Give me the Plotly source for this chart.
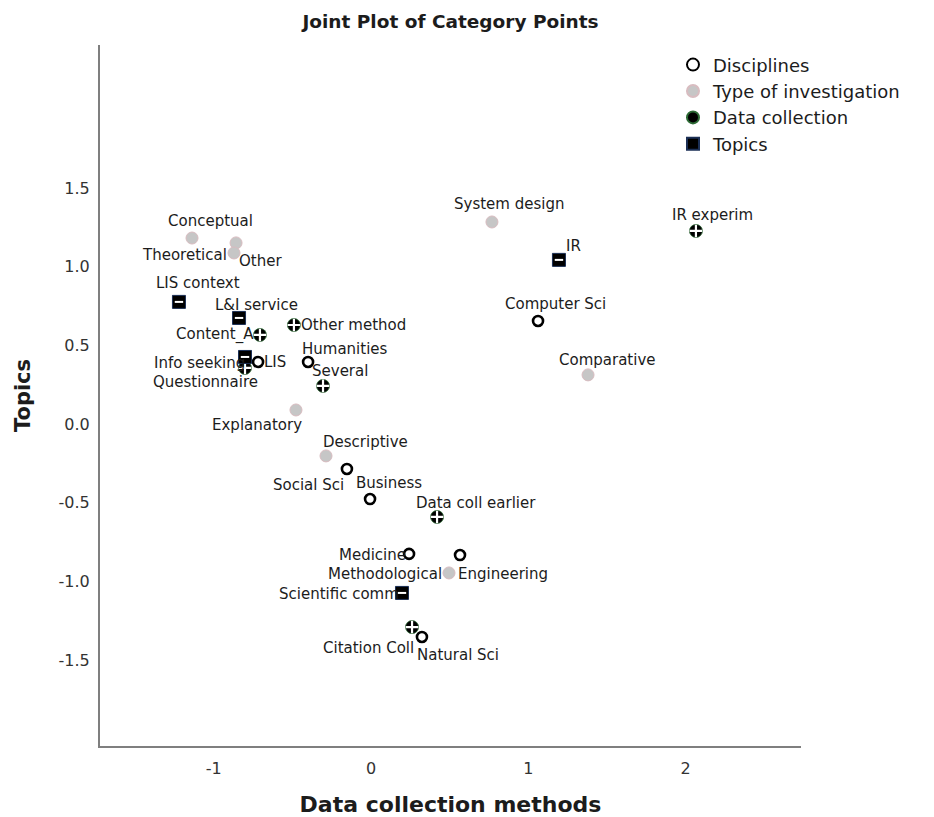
import plotly.graph_objects as go

# ---------------- data ----------------
disc_names = ["Computer Sci", "LIS", "Humanities", "Social Sci", "Business",
              "Medicine", "Engineering", "Natural Sci"]
disc_x = [1.062, -0.718, -0.400, -0.153, -0.006, 0.242, 0.566, 0.324]
disc_y = [0.655, 0.394, 0.394, -0.286, -0.477, -0.826, -0.833, -1.354]

type_names = ["Conceptual", "Other", "Theoretical", "System design", "Comparative",
              "Explanatory", "Descriptive", "Methodological"]
type_x = [-1.138, -0.858, -0.871, 0.769, 1.380, -0.477, -0.286, 0.496]
type_y = [1.182, 1.151, 1.087, 1.284, 0.312, 0.089, -0.203, -0.947]

dc_names = ["IR experim", "Other method", "Content_A", "Questionnaire", "Several",
            "Data coll earlier", "Citation Coll"]
dc_x = [2.066, -0.490, -0.706, -0.801, -0.305, 0.420, 0.261]
dc_y = [1.227, 0.629, 0.566, 0.356, 0.242, -0.591, -1.291]

topic_names = ["IR", "LIS context", "L&I service", "Info seeking", "Scientific comm"]
topic_x = [1.195, -1.221, -0.839, -0.801, 0.197]
topic_y = [1.043, 0.776, 0.674, 0.426, -1.074]

x_ticks = [-1, 0, 1, 2]
x_tick_text = ["-1", "0", "1", "2"]
y_ticks = [-1.5, -1.0, -0.5, 0.0, 0.5, 1.0, 1.5]
y_tick_text = ["-1.5", "-1.0", "-0.5", "0.0", "0.5", "1.0", "1.5"]

# ---------------- label placement (anchor, dx px, dy px down) ----------------
label_pos = {
    "Computer Sci": ("center", 17, -17), "LIS": ("left", 4, 0),
    "Humanities": ("center", 37, -13), "Social Sci": ("center", -38, 16),
    "Business": ("center", 19, -16), "Medicine": ("right", -1, 1),
    "Engineering": ("left", -4, 19), "Natural Sci": ("left", -7, 18),
    "Conceptual": ("center", 18, -17), "Other": ("left", 1, 18),
    "Theoretical": ("right", -5, 2), "System design": ("center", 17, -18),
    "Comparative": ("center", 19, -15), "Explanatory": ("center", -39, 15),
    "Descriptive": ("center", 39, -14), "Methodological": ("right", -5, 1),
    "IR experim": ("center", 17, -16), "Other method": ("left", 5, 0),
    "Content_A": ("right", -4, 0), "Questionnaire": ("center", -40, 14),
    "Several": ("center", 17, -15), "Data coll earlier": ("center", 39, -14),
    "Citation Coll": ("right", 4, 21), "IR": ("left", 5, -14),
    "LIS context": ("center", 19, -19), "L&I service": ("center", 17, -13),
    "Info seeking": ("right", 2, 6), "Scientific comm": ("right", -1, 1),
}

FONT = "DejaVu Sans"
TXT = "#1c1c1c"

fig = go.Figure()

fig.add_trace(go.Scatter(
    x=disc_x, y=disc_y, mode="markers", name="Disciplines",
    marker=dict(symbol="circle", size=10, color="white",
                line=dict(color="black", width=2.6)),
))
fig.add_trace(go.Scatter(
    x=type_x, y=type_y, mode="markers", name="Type of investigation",
    marker=dict(symbol="circle", size=12, color="#c6c6c6",
                line=dict(color="#d8bcc0", width=1)),
))
fig.add_trace(go.Scatter(
    x=dc_x, y=dc_y, mode="markers", name="Data collection", legendgroup="dc",
    marker=dict(symbol="circle", size=13, color="black",
                line=dict(color="#2d6b35", width=0.8)),
))
fig.add_trace(go.Scatter(
    x=dc_x, y=dc_y, mode="markers", showlegend=False, legendgroup="dc",
    hoverinfo="skip",
    marker=dict(symbol="cross-thin", size=9, color="white",
                line=dict(color="white", width=2.2)),
))
fig.add_trace(go.Scatter(
    x=topic_x, y=topic_y, mode="markers", name="Topics", legendgroup="topics",
    marker=dict(symbol="square", size=13, color="black",
                line=dict(color="#1b2f55", width=1)),
))
fig.add_trace(go.Scatter(
    x=topic_x, y=topic_y, mode="markers", showlegend=False, legendgroup="topics",
    hoverinfo="skip",
    marker=dict(symbol="line-ew", size=6, color="white",
                line=dict(color="white", width=2)),
))

annotations = []
for names, xs, ys in [(disc_names, disc_x, disc_y), (type_names, type_x, type_y),
                      (dc_names, dc_x, dc_y), (topic_names, topic_x, topic_y)]:
    for n, xv, yv in zip(names, xs, ys):
        anc, dx, dy = label_pos[n]
        annotations.append(dict(
            x=xv, y=yv, xref="x", yref="y", text=n, showarrow=False,
            xanchor=anc, yanchor="middle", xshift=dx, yshift=-dy,
            font=dict(family=FONT, size=15, color=TXT),
        ))

fig.update_layout(
    width=934, height=817, autosize=False,
    margin=dict(l=100, r=133, t=45, b=71),
    paper_bgcolor="white", plot_bgcolor="white",
    title=dict(text="<b>Joint Plot of Category Points</b>", x=0.5, xref="paper",
               xanchor="center", y=1 - 22 / 817, yanchor="middle",
               font=dict(family=FONT, size=18.5, color=TXT)),
    font=dict(family=FONT, color=TXT),
    showlegend=True,
    legend=dict(x=0.8174, y=0.998, xanchor="left", yanchor="top",
                bgcolor="rgba(0,0,0,0)", borderwidth=0,
                font=dict(family=FONT, size=18, color=TXT),
                tracegroupgap=0, itemsizing="constant"),
    annotations=annotations,
    xaxis=dict(range=[-1.723, 2.734], tickvals=x_ticks, ticktext=x_tick_text,
               showgrid=False, zeroline=False, showline=True, linecolor="#7f7f7f",
               linewidth=2, ticks="", automargin=False,
               tickfont=dict(family=FONT, size=16, color="#333"),
               ticklabelstandoff=7,
               title=dict(text="<b>Data collection methods</b>", standoff=26,
                          font=dict(family=FONT, size=22, color=TXT))),
    yaxis=dict(range=[-2.047, 2.409], tickvals=y_ticks, ticktext=y_tick_text,
               showgrid=False, zeroline=False, showline=True, linecolor="#7f7f7f",
               linewidth=2, ticks="", automargin=False,
               tickfont=dict(family=FONT, size=16, color="#333"),
               ticklabelstandoff=5,
               title=dict(text="<b>Topics</b>", standoff=22,
                          font=dict(family=FONT, size=21, color=TXT))),
)

fig.write_html("out.html",
               config={"displayModeBar": False},
               post_script="document.body.style.margin='0';document.body.style.padding='0';")
